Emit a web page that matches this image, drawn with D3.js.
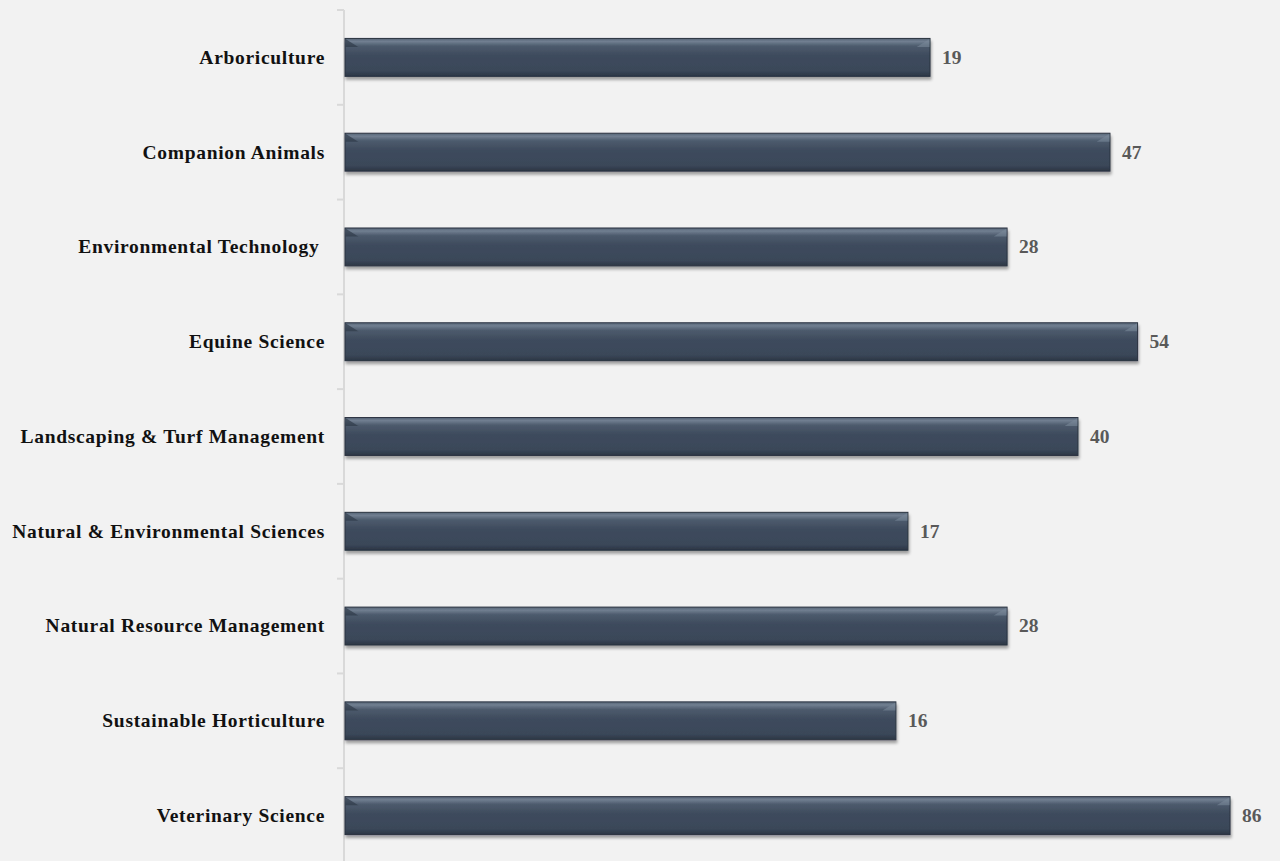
<!DOCTYPE html>
<html>
<head>
<meta charset="utf-8">
<script src="https://cdn.jsdelivr.net/npm/d3@7"></script>
<style>
  html, body { margin: 0; padding: 0; background: #f2f2f2; }
  svg { display: block; }
</style>
</head>
<body>
<script>
// chart data
var categories = ["Arboriculture", "Companion Animals", "Environmental Technology ",
  "Equine Science", "Landscaping & Turf Management", "Natural & Environmental Sciences",
  "Natural Resource Management", "Sustainable Horticulture", "Veterinary Science"];
var counts = [19, 47, 28, 54, 40, 17, 28, 16, 86];

var width = 1280, height = 861;
var axisX = 344;
var labelFont = "'Liberation Serif', serif";
var fs = 19.5;

var svg = d3.select("body").append("svg")
    .attr("width", width)
    .attr("height", height);

svg.append("rect").attr("width", width).attr("height", height).attr("fill", "#f2f2f2");

var defs = svg.append("defs");
var grad = defs.append("linearGradient")
    .attr("id", "barGrad")
    .attr("x1", 0).attr("y1", 0).attr("x2", 0).attr("y2", 1);
grad.append("stop").attr("offset", "0%").attr("stop-color", "#566476");
grad.append("stop").attr("offset", "8%").attr("stop-color", "#717f91");
grad.append("stop").attr("offset", "20%").attr("stop-color", "#4d5b6d");
grad.append("stop").attr("offset", "45%").attr("stop-color", "#3e4b5d");
grad.append("stop").attr("offset", "85%").attr("stop-color", "#3a4759");
grad.append("stop").attr("offset", "100%").attr("stop-color", "#2c3644");

var shadow = defs.append("filter").attr("id", "shadow")
    .attr("x", "-5%").attr("y", "-30%").attr("width", "110%").attr("height", "170%");
shadow.append("feGaussianBlur").attr("in", "SourceAlpha").attr("stdDeviation", 1.8);
shadow.append("feOffset").attr("dx", 1).attr("dy", 3).attr("result", "ob");
shadow.append("feComponentTransfer").append("feFuncA").attr("type", "linear").attr("slope", 0.35);
var merge = shadow.append("feMerge");
merge.append("feMergeNode");
merge.append("feMergeNode").attr("in", "SourceGraphic");

var y = d3.scaleBand()
    .domain(categories)
    .range([10, 863])
    .paddingInner(0.6)
    .paddingOuter(0.3);

var x = d3.scaleLog()
    .domain([1, 100])
    .range([axisX + 1, 1260]);

// axis line + ticks between categories
var tickYs = d3.range(categories.length + 1).map(function (i) { return 10 + i * y.step(); });
svg.append("g").selectAll("line")
    .data(tickYs)
    .enter().append("line")
    .attr("x1", axisX - 7).attr("x2", axisX)
    .attr("y1", function (d) { return d; })
    .attr("y2", function (d) { return d; })
    .attr("stroke", "#d9d9d9")
    .attr("stroke-width", 2);
svg.append("line")
    .attr("x1", axisX).attr("x2", axisX)
    .attr("y1", 10).attr("y2", height)
    .attr("stroke", "#d9d9d9").attr("stroke-width", 2);

// category labels
var labels = svg.append("g").selectAll("text")
    .data(categories)
    .enter().append("text")
    .attr("x", 325)
    .attr("y", function (d) { return y(d) + y.bandwidth() / 2; })
    .attr("dy", "0.33em")
    .attr("text-anchor", "end")
    .attr("font-family", labelFont)
    .attr("font-weight", "bold")
    .attr("font-size", fs)
    .attr("fill", "#111")
    .style("white-space", "pre")
    .text(function (d) { return d; });

// widen slightly so the longest label spans ~312px like the reference
var longestNode = labels.nodes().reduce(function (a, b) {
    return a.getComputedTextLength() > b.getComputedTextLength() ? a : b;
});
var ls = (312 - longestNode.getComputedTextLength()) / (longestNode.textContent.length - 1);
labels.attr("letter-spacing", Math.max(0, ls));

// bars
var bars = svg.append("g").selectAll("g")
    .data(counts)
    .enter().append("g");

bars.append("rect")
    .attr("x", x(1))
    .attr("y", function (d, i) { return y(categories[i]); })
    .attr("width", function (d) { return x(d) - x(1); })
    .attr("height", y.bandwidth())
    .attr("fill", "url(#barGrad)")
    .attr("stroke", "#2a3340")
    .attr("stroke-width", 1)
    .attr("filter", "url(#shadow)");

// bevel corners
bars.append("path")
    .attr("d", function (d, i) {
        var y0 = y(categories[i]) + 0.5, x0 = x(1) + 0.5, h = 8;
        return "M" + x0 + "," + y0 + "L" + (x0 + h * 1.6) + "," + (y0 + h) + "L" + x0 + "," + (y0 + h) + "Z";
    })
    .attr("fill", "#2f3a49").attr("opacity", 0.7);
bars.append("path")
    .attr("d", function (d, i) {
        var y0 = y(categories[i]) + 0.5, x1 = x(d) - 0.5, h = 8;
        return "M" + x1 + "," + y0 + "L" + (x1 - h * 1.6) + "," + (y0 + h) + "L" + x1 + "," + (y0 + h) + "Z";
    })
    .attr("fill", "#7a889a").attr("opacity", 0.6);

// value labels
bars.append("text")
    .attr("x", function (d) { return x(d) + 12; })
    .attr("y", function (d, i) { return y(categories[i]) + y.bandwidth() / 2; })
    .attr("dy", "0.33em")
    .attr("font-family", labelFont)
    .attr("font-weight", "bold")
    .attr("font-size", fs)
    .attr("fill", "#595959")
    .text(function (d) { return d; });
</script>
</body>
</html>
